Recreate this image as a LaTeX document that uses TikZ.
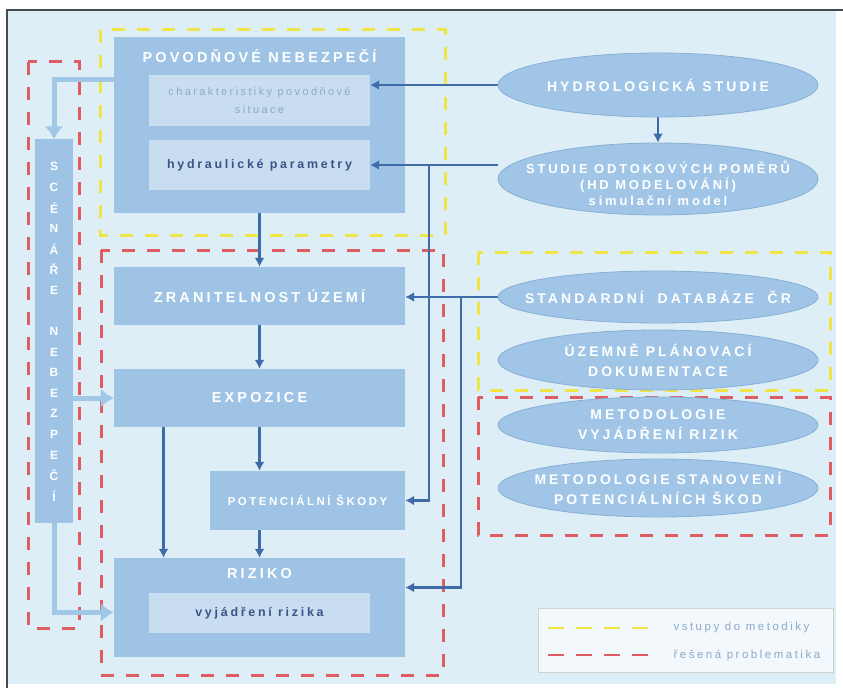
\documentclass[tikz,border=0pt]{standalone}
\usepackage{fontspec}
\setmainfont{Liberation Sans}
\newfontfamily\spc[LetterSpace=22]{Liberation Sans}
\usetikzlibrary{arrows.meta,shapes.geometric}

\definecolor{bgblue}{RGB}{222,238,246}
\definecolor{boxblue}{RGB}{158,195,229}
\definecolor{inblue}{RGB}{200,222,240}
\definecolor{ovblue}{RGB}{160,197,231}
\definecolor{ovline}{RGB}{135,175,214}
\definecolor{darrow}{RGB}{62,108,168}
\definecolor{larrow}{RGB}{160,199,229}
\definecolor{dashyellow}{RGB}{238,230,70}
\definecolor{dashred}{RGB}{222,92,98}
\definecolor{greytext}{RGB}{140,170,200}
\definecolor{darktext}{RGB}{55,85,135}
\definecolor{framegray}{RGB}{70,75,80}

\pgfdeclarelayer{front}
\pgfsetlayers{main,front}

\begin{document}
\begin{tikzpicture}
        [
        x=1bp,y=-1bp,
        box/.style={rectangle,fill=boxblue,inner sep=0pt},
        inbox/.style={rectangle,fill=inblue,inner sep=0pt,minimum width=221bp},
        oval/.style={ellipse,fill=ovblue,draw=ovline,line width=0.8bp,inner sep=0pt,minimum width=320bp},
        ovtext/.style={align=center,text=white,font=\spc\bfseries\fontsize{14}{20}\selectfont},
        head/.style={text=white,font=\spc\bfseries\fontsize{14.5}{16}\selectfont},
        vlet/.style={text=white,font=\bfseries\fontsize{12}{14}\selectfont},
        edge/.style={->,> = {Latex[length=9bp,width=10bp]},draw=darrow,line width=2.4bp},
        ledge/.style={->,> = {Latex[length=13bp,width=19bp]},draw=larrow,line width=5bp},
        yframe/.style={draw=dashyellow,line width=3bp,dash pattern=on 13bp off 12bp},
        rframe/.style={draw=dashred,line width=3bp,dash pattern=on 13bp off 12bp},
        legtext/.style={anchor=west,text=greytext,font=\spc\fontsize{11.5}{14}\selectfont}
        ]
    \useasboundingbox (0,0) rectangle (843,688);
    \fill[bgblue] (7,10) rectangle (836,684);
    \draw[framegray,line width=2bp] (7,688) -- (7,10) -- (843,10);

    % zones
    \draw[yframe] (100,30) rectangle (445,235);
    \draw[rframe] (101,250) rectangle (443,675);
    \draw[rframe] (28,62) rectangle (79,628);
    \draw[yframe] (478,252) rectangle (830,390);
    \draw[rframe] (478,397) rectangle (830,535);

    % sources on the right
    \begin{pgfonlayer}{front}
    \node[oval,minimum height=64bp] (hydro) at (658,85) {};
    \node[ovtext] (hydrot) at (hydro) {HYDROLOGICKÁ STUDIE};
    \node[oval,minimum height=72bp] (studie) at (658,179) {};
    \node[ovtext,font=\spc\bfseries\fontsize{13}{16}\selectfont] (studiet) at (658,183) {STUDIE ODTOKOVÝCH POMĚRŮ\\(HD MODELOVÁNÍ)\\simulační model};
    \node[oval,minimum height=52bp] (std) at (658,297) {};
    \node[ovtext] (stdt) at (std) {STANDARDNÍ\ \ DATABÁZE\ \ ČR};
    \node[oval,minimum height=60bp] (uzem) at (658,360) {};
    \node[ovtext] (uzemt) at (uzem) {ÚZEMNĚ PLÁNOVACÍ\\DOKUMENTACE};
    \node[oval,minimum height=56bp] (meta) at (658,425) {};
    \node[ovtext] (metat) at (meta) {METODOLOGIE\\VYJÁDŘENÍ RIZIK};
    \node[oval,minimum height=58bp] (metb) at (658,488) {};
    \node[ovtext] (metbt) at (metb) {METODOLOGIE STANOVENÍ\\POTENCIÁLNÍCH ŠKOD};
    \end{pgfonlayer}

    % main chain
    \node[box,minimum width=291bp,minimum height=176bp] (povod) at (259.5,125) {};
    \node[head] (povodt) at (259.5,56) {POVODŇOVÉ NEBEZPEČÍ};
    \node[inbox,minimum height=51bp] (charakt) at (259.5,100.5) {};
    \node[align=center,text=greytext,font=\spc\fontsize{11}{19}\selectfont] (charaktt) at (charakt) {charakteristiky povodňové\\situace};
    \node[inbox,minimum height=50bp] (hydr) at (259.5,165) {};
    \node[text=darktext,font=\spc\bfseries\fontsize{12.5}{15}\selectfont] (hydrt) at (hydr) {hydraulické parametry};
    \node[box,minimum width=291bp,minimum height=58bp] (zran) at (259.5,296) {};
    \node[head] (zrant) at (zran) {ZRANITELNOST ÚZEMÍ};
    \node[box,minimum width=291bp,minimum height=58bp] (expo) at (259.5,398) {};
    \node[head] (expot) at (expo) {EXPOZICE};
    \node[box,minimum width=195bp,minimum height=59bp] (skody) at (307.5,500.5) {};
    \node[head,font=\spc\bfseries\fontsize{11.5}{14}\selectfont] (skodyt) at (skody) {POTENCIÁLNÍ ŠKODY};
    \node[box,minimum width=291bp,minimum height=99bp] (riz) at (259.5,607.5) {};
    \node[head] (rizt) at (259.5,574) {RIZIKO};
    \node[inbox,minimum height=40bp] (vyj) at (259.5,613) {};
    \node[text=darktext,font=\spc\bfseries\fontsize{12.5}{15}\selectfont] (vyjt) at (vyj) {vyjádření rizika};

    % scenarios
    \node[box,minimum width=38bp,minimum height=383bp] (scen) at (54,331) {};
    \foreach \l [count=\i] in {S,C,É,N,Á,Ř,E,,N,E,B,E,Z,P,E,Č,Í}
        \node[vlet] (sc\i) at (54,146+\i*20.6) {\l};

    \coordinate (bra) at (429,165);
    \coordinate (brb) at (461,296);
    \draw[edge] (hydro.west) -- (hydro.west -| charakt.east);
    \draw[edge] (hydro.south) -- (studie.north);
    \draw[edge] (studie.west |- hydr.east) -- (hydr.east);
    \draw[edge] (bra) |- (skody.east);
    \draw[edge] (std.west) -- (std.west -| zran.east);
    \draw[edge] (brb) |- ([yshift=20bp]riz.east);
    \draw[edge] (povod.south) -- (zran.north);
    \draw[edge] (zran.south) -- (expo.north);
    \draw[edge] (expo.south) -- (expo.south |- skody.north);
    \draw[edge] (riz.north |- skody.south) -- (riz.north);
    \draw[edge] ([xshift=-96bp]expo.south) -- ([xshift=-96bp]riz.north);
    \draw[ledge] ([yshift=45bp]povod.west) -| (scen.north);
    \draw[ledge] (scen.east |- expo.west) -- (expo.west);
    \draw[ledge] (scen.south) |- ([yshift=-5bp]riz.west);

    % legend
    \node[rectangle,fill=white!60!bgblue,draw=black!18,inner sep=0pt,minimum width=295bp,minimum height=64bp] (leg) at (685.5,640) {};
    \coordinate (lya) at (548,628);
    \coordinate (lyb) at (648,628);
    \coordinate (lra) at (548,655);
    \coordinate (lrb) at (648,655);
    \draw[yframe,line width=2.5bp,dash pattern=on 16bp off 12bp] (lya) -- (lyb);
    \draw[rframe,line width=2.5bp,dash pattern=on 16bp off 12bp] (lra) -- (lrb);
    \node[legtext] (legy) at (670,628) {vstupy do metodiky};
    \node[legtext] (legr) at (670,655) {řešená problematika};
    \end{tikzpicture}
\end{document}
